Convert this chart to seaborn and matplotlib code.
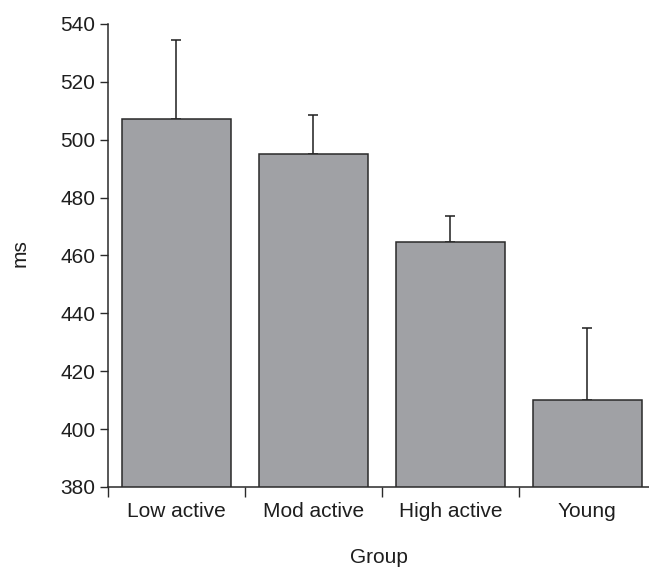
import matplotlib
matplotlib.use("Agg")
import matplotlib.pyplot as plt
import seaborn as sns
import pandas as pd

# --------------------------------------------------
# DATA
# --------------------------------------------------

groups = ["Low active", "Mod active", "High active", "Young"]
mean_ms = [507.0, 495.0, 464.5, 410.0]
err_ms = [27.5, 13.5, 9.0, 25.0]
y_ticks = [380, 400, 420, 440, 460, 480, 500, 520, 540]

df = pd.DataFrame({"Group": groups, "ms": mean_ms})

sns.set_style("ticks")
plt.rcParams["font.family"] = ["Liberation Sans", "DejaVu Sans"]

fig = plt.figure(figsize=(6.49, 5.67), dpi=100)
ax = fig.add_axes([0.1664, 0.1411, 0.8336, 0.8166])

# error bars first (upper only), bars drawn over them
ax.errorbar(range(len(groups)), mean_ms, yerr=[[0] * len(groups), err_ms],
            fmt="none", ecolor="#1e1e1e", elinewidth=1.1, capsize=3.5,
            capthick=1.1, zorder=1)

sns.barplot(data=df, x="Group", y="ms", color="#a0a1a5", saturation=1,
            edgecolor="#2a2a2a", linewidth=1.1, width=0.8, errorbar=None,
            ax=ax, zorder=2)

# boundary ticks on x, labels at centers
ax.set_xticks([-0.5, 0.5, 1.5, 2.5, 3.5])
ax.set_xticklabels([])
ax.set_xticks(range(len(groups)), minor=True)
ax.set_xticklabels(groups, minor=True)
ax.set_yticks(y_ticks)

ax.set_ylim(380, 540)
ax.set_xlim(-0.5, 3.45)

ax.tick_params(axis="x", which="major", length=7, width=1, color="#2a2a2a")
ax.tick_params(axis="x", which="minor", length=0, pad=11, labelsize=15,
               labelcolor="#1e1e1e")
ax.tick_params(axis="y", length=6, width=1, color="#2a2a2a", pad=3,
               labelsize=15, labelcolor="#1e1e1e")

for side in ["top", "right"]:
    ax.spines[side].set_visible(False)
for side in ["left", "bottom"]:
    ax.spines[side].set_color("#2a2a2a")
    ax.spines[side].set_linewidth(1.1)

ax.set_xlabel("Group", fontsize=15, color="#1e1e1e")
ax.xaxis.set_label_coords(0.5, -0.131)
ax.set_ylabel("ms", fontsize=15, color="#1e1e1e")
ax.yaxis.set_label_coords(-0.145, 0.505)

fig.savefig("out.png", dpi=100)
